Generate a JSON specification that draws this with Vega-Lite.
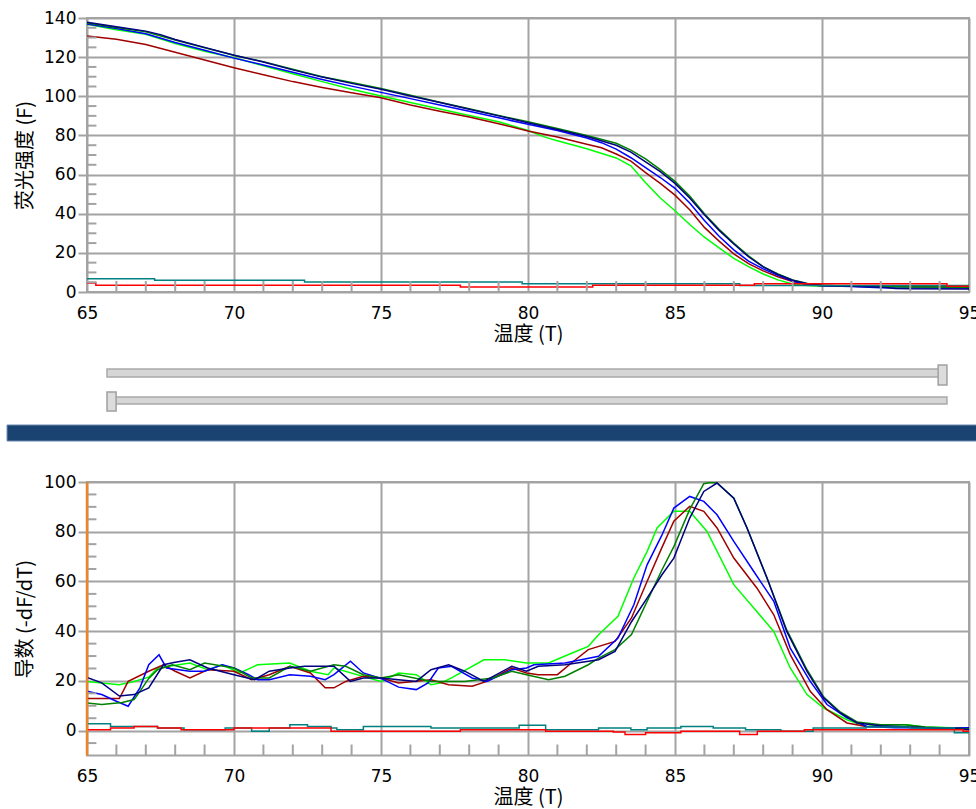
{
 "$schema": "https://vega.github.io/schema/vega-lite/v6.json",
 "background": "white",
 "padding": {"left": 6, "top": 8, "right": 0, "bottom": 0},
 "bounds": "flush",
 "spacing": 0,
 "config": {
  "view": {"stroke": "#a3a3a3", "strokeWidth": 2},
  "axis": {"labelFont": "DejaVu Sans", "labelFontSize": 17, "labelColor": "#000000", "titleFont": "Noto Sans CJK SC", "titleFontSize": 20, "titleFontWeight": "normal", "titleColor": "#000000", "gridColor": "#a3a3a3", "gridWidth": 2, "gridOpacity": 1, "domain": false, "tickColor": "#a3a3a3", "tickWidth": 2, "labelOverlap": false}
 },
 "datasets": {
  "melt": [
   {"s":"s4","T":65,"F":136.8},{"s":"s4","T":66,"F":134},{"s":"s4","T":67,"F":131.7},{"s":"s4","T":68,"F":127},{"s":"s4","T":69,"F":123},{"s":"s4","T":70,"F":119.7},{"s":"s4","T":71,"F":115.6},{"s":"s4","T":72,"F":111.5},{"s":"s4","T":73,"F":107.5},{"s":"s4","T":74,"F":103.6},{"s":"s4","T":75,"F":100.2},{"s":"s4","T":76,"F":96.8},{"s":"s4","T":77,"F":93.5},{"s":"s4","T":78,"F":90.2},{"s":"s4","T":79,"F":87},{"s":"s4","T":80,"F":82.5},{"s":"s4","T":80.6,"F":79},{"s":"s4","T":81,"F":77.3},{"s":"s4","T":82,"F":73.2},{"s":"s4","T":83,"F":68.5},{"s":"s4","T":83.5,"F":64.5},{"s":"s4","T":84,"F":55.8},{"s":"s4","T":84.5,"F":48},{"s":"s4","T":85,"F":41.5},{"s":"s4","T":85.5,"F":34.5},{"s":"s4","T":86,"F":28},{"s":"s4","T":86.5,"F":22.5},{"s":"s4","T":87,"F":17.2},{"s":"s4","T":87.5,"F":13},{"s":"s4","T":88,"F":9.2},{"s":"s4","T":88.5,"F":6.2},{"s":"s4","T":89,"F":4.1},{"s":"s4","T":89.5,"F":3.3},{"s":"s4","T":90,"F":3},{"s":"s4","T":92,"F":3},{"s":"s4","T":95,"F":3},
   {"s":"s5","T":65,"F":130.8},{"s":"s5","T":66,"F":129.2},{"s":"s5","T":67,"F":126.5},{"s":"s5","T":68,"F":122.5},{"s":"s5","T":69,"F":118.5},{"s":"s5","T":70,"F":114.6},{"s":"s5","T":71,"F":111},{"s":"s5","T":72,"F":107.5},{"s":"s5","T":73,"F":104.5},{"s":"s5","T":74,"F":101.8},{"s":"s5","T":75,"F":99.2},{"s":"s5","T":76,"F":95.6},{"s":"s5","T":77,"F":92.4},{"s":"s5","T":78,"F":89.4},{"s":"s5","T":79,"F":86},{"s":"s5","T":80,"F":82.3},{"s":"s5","T":81,"F":79.2},{"s":"s5","T":82,"F":75.5},{"s":"s5","T":82.5,"F":73.7},{"s":"s5","T":83,"F":70.5},{"s":"s5","T":83.5,"F":66.9},{"s":"s5","T":84,"F":61},{"s":"s5","T":84.5,"F":55.5},{"s":"s5","T":85,"F":49.5},{"s":"s5","T":85.5,"F":42},{"s":"s5","T":86,"F":33},{"s":"s5","T":86.5,"F":26},{"s":"s5","T":87,"F":19.5},{"s":"s5","T":87.5,"F":14.5},{"s":"s5","T":88,"F":10.8},{"s":"s5","T":88.5,"F":7.8},{"s":"s5","T":89,"F":5.3},{"s":"s5","T":89.5,"F":3.8},{"s":"s5","T":90,"F":3.2},{"s":"s5","T":91,"F":3},{"s":"s5","T":95,"F":3},
   {"s":"s3","T":65,"F":137},{"s":"s3","T":66,"F":134.6},{"s":"s3","T":67,"F":132},{"s":"s3","T":68,"F":127.5},{"s":"s3","T":69,"F":123.5},{"s":"s3","T":70,"F":119.5},{"s":"s3","T":71,"F":116},{"s":"s3","T":72,"F":112.3},{"s":"s3","T":73,"F":108.6},{"s":"s3","T":74,"F":105.2},{"s":"s3","T":75,"F":102},{"s":"s3","T":76,"F":98.8},{"s":"s3","T":77,"F":95.6},{"s":"s3","T":78,"F":92.3},{"s":"s3","T":79,"F":89},{"s":"s3","T":80,"F":85.7},{"s":"s3","T":81,"F":82.5},{"s":"s3","T":82,"F":78.7},{"s":"s3","T":82.5,"F":76.3},{"s":"s3","T":83,"F":73},{"s":"s3","T":83.5,"F":68.6},{"s":"s3","T":84,"F":63.5},{"s":"s3","T":84.5,"F":58.5},{"s":"s3","T":85,"F":53},{"s":"s3","T":85.5,"F":45.5},{"s":"s3","T":86,"F":36.5},{"s":"s3","T":86.5,"F":28.5},{"s":"s3","T":87,"F":21.5},{"s":"s3","T":87.5,"F":15.8},{"s":"s3","T":88,"F":11.8},{"s":"s3","T":88.5,"F":8.5},{"s":"s3","T":89,"F":5.6},{"s":"s3","T":89.5,"F":3.8},{"s":"s3","T":90,"F":3.2},{"s":"s3","T":91,"F":2.8},{"s":"s3","T":92,"F":2.2},{"s":"s3","T":93,"F":2},{"s":"s3","T":95,"F":2},
   {"s":"s2","T":65,"F":137.4},{"s":"s2","T":66,"F":135.2},{"s":"s2","T":67,"F":133},{"s":"s2","T":68,"F":128.8},{"s":"s2","T":69,"F":124.8},{"s":"s2","T":70,"F":121},{"s":"s2","T":71,"F":117.6},{"s":"s2","T":72,"F":113.8},{"s":"s2","T":73,"F":110},{"s":"s2","T":74,"F":107},{"s":"s2","T":75,"F":104},{"s":"s2","T":76,"F":100.5},{"s":"s2","T":77,"F":97},{"s":"s2","T":78,"F":93.6},{"s":"s2","T":79,"F":90.2},{"s":"s2","T":80,"F":87},{"s":"s2","T":81,"F":83.5},{"s":"s2","T":82,"F":80},{"s":"s2","T":83,"F":76},{"s":"s2","T":83.5,"F":72.5},{"s":"s2","T":84,"F":68},{"s":"s2","T":84.5,"F":62.5},{"s":"s2","T":85,"F":56.5},{"s":"s2","T":85.5,"F":49},{"s":"s2","T":86,"F":40},{"s":"s2","T":86.5,"F":32},{"s":"s2","T":87,"F":25},{"s":"s2","T":87.5,"F":18.5},{"s":"s2","T":88,"F":13},{"s":"s2","T":88.5,"F":9.2},{"s":"s2","T":89,"F":6.2},{"s":"s2","T":89.5,"F":4.3},{"s":"s2","T":90,"F":3.4},{"s":"s2","T":91,"F":3},{"s":"s2","T":92,"F":2.8},{"s":"s2","T":93,"F":2.5},{"s":"s2","T":95,"F":2.4},
   {"s":"s1","T":65,"F":137.8},{"s":"s1","T":66,"F":135.5},{"s":"s1","T":67,"F":133.3},{"s":"s1","T":67.5,"F":131.5},{"s":"s1","T":68,"F":129},{"s":"s1","T":69,"F":125},{"s":"s1","T":70,"F":121},{"s":"s1","T":71,"F":117.5},{"s":"s1","T":72,"F":113.5},{"s":"s1","T":73,"F":109.8},{"s":"s1","T":74,"F":106.6},{"s":"s1","T":75,"F":103.6},{"s":"s1","T":76,"F":100.2},{"s":"s1","T":77,"F":96.8},{"s":"s1","T":78,"F":93.4},{"s":"s1","T":79,"F":90},{"s":"s1","T":80,"F":86.5},{"s":"s1","T":81,"F":83},{"s":"s1","T":82,"F":79.5},{"s":"s1","T":83,"F":75},{"s":"s1","T":83.5,"F":71.5},{"s":"s1","T":84,"F":66.5},{"s":"s1","T":84.5,"F":61.5},{"s":"s1","T":85,"F":55.5},{"s":"s1","T":85.5,"F":48},{"s":"s1","T":86,"F":39.5},{"s":"s1","T":86.5,"F":31.5},{"s":"s1","T":87,"F":24.5},{"s":"s1","T":87.5,"F":18},{"s":"s1","T":88,"F":12.8},{"s":"s1","T":88.5,"F":9},{"s":"s1","T":89,"F":6},{"s":"s1","T":89.5,"F":4.2},{"s":"s1","T":90,"F":3.4},{"s":"s1","T":91,"F":3},{"s":"s1","T":92,"F":2.5},{"s":"s1","T":92.5,"F":1.8},{"s":"s1","T":93,"F":1.6},{"s":"s1","T":95,"F":1.5}
  ],
  "meltNC": [
   {"s":"nc1","T":65,"F":6.8},{"s":"nc1","T":67.3,"F":6.0},{"s":"nc1","T":72.4,"F":5.1},{"s":"nc1","T":79.8,"F":4.2},{"s":"nc1","T":87.2,"F":3.3},{"s":"nc1","T":95,"F":3.3},
   {"s":"nc2","T":65,"F":4.6},{"s":"nc2","T":65.3,"F":3.4},{"s":"nc2","T":77.7,"F":2.6},{"s":"nc2","T":82.2,"F":3.4},{"s":"nc2","T":87.7,"F":4.2},{"s":"nc2","T":94.25,"F":3.0},{"s":"nc2","T":95,"F":3.0}
  ],
  "deriv": [
   {"s":"s4","T":65,"D":19.8},{"s":"s4","T":65.5,"D":19.2},{"s":"s4","T":66.1,"D":18.5},{"s":"s4","T":66.6,"D":19.8},{"s":"s4","T":67.1,"D":21.5},{"s":"s4","T":67.4,"D":25.2},{"s":"s4","T":68.5,"D":27.2},{"s":"s4","T":69.1,"D":24.5},{"s":"s4","T":69.6,"D":26.5},{"s":"s4","T":70.2,"D":23.2},{"s":"s4","T":70.8,"D":26.5},{"s":"s4","T":71.9,"D":27.2},{"s":"s4","T":72.6,"D":23.9},{"s":"s4","T":73.2,"D":22.5},{"s":"s4","T":73.4,"D":25.2},{"s":"s4","T":75,"D":19.8},{"s":"s4","T":75.6,"D":23.2},{"s":"s4","T":76.2,"D":22.5},{"s":"s4","T":76.7,"D":18.5},{"s":"s4","T":77.05,"D":19.2},{"s":"s4","T":77.4,"D":21.2},{"s":"s4","T":78.5,"D":28.5},{"s":"s4","T":79.2,"D":28.5},{"s":"s4","T":79.95,"D":27.2},{"s":"s4","T":80.7,"D":27.2},{"s":"s4","T":81.5,"D":31.2},{"s":"s4","T":82.05,"D":33.9},{"s":"s4","T":82.4,"D":38.6},{"s":"s4","T":83.06,"D":46},{"s":"s4","T":83.6,"D":61.4},{"s":"s4","T":84.05,"D":72},{"s":"s4","T":84.39,"D":81.5},{"s":"s4","T":84.96,"D":88.2},{"s":"s4","T":85.5,"D":88.2},{"s":"s4","T":86.09,"D":80.1},{"s":"s4","T":87,"D":58.7},{"s":"s4","T":87.68,"D":49.3},{"s":"s4","T":88.36,"D":39.9},{"s":"s4","T":88.92,"D":25.2},{"s":"s4","T":89.49,"D":14.5},{"s":"s4","T":90.06,"D":9.1},{"s":"s4","T":90.85,"D":4.4},{"s":"s4","T":91.5,"D":1.7},{"s":"s4","T":92.2,"D":2.4},{"s":"s4","T":92.9,"D":2.4},{"s":"s4","T":93.5,"D":1.5},{"s":"s4","T":95,"D":1},
   {"s":"s5","T":65,"D":12.9},{"s":"s5","T":66.1,"D":12.9},{"s":"s5","T":66.4,"D":19.8},{"s":"s5","T":67.1,"D":23.9},{"s":"s5","T":67.6,"D":26.5},{"s":"s5","T":68,"D":23.9},{"s":"s5","T":68.5,"D":21.2},{"s":"s5","T":69.1,"D":24.5},{"s":"s5","T":70,"D":23.9},{"s":"s5","T":70.6,"D":20.5},{"s":"s5","T":71.2,"D":22.5},{"s":"s5","T":71.9,"D":25.9},{"s":"s5","T":72.6,"D":23.2},{"s":"s5","T":73.1,"D":17.2},{"s":"s5","T":73.4,"D":17.2},{"s":"s5","T":73.8,"D":19.8},{"s":"s5","T":74.4,"D":21.9},{"s":"s5","T":75,"D":21.2},{"s":"s5","T":75.6,"D":19.2},{"s":"s5","T":76.7,"D":20.5},{"s":"s5","T":77.3,"D":18.5},{"s":"s5","T":78.1,"D":17.9},{"s":"s5","T":78.6,"D":19.8},{"s":"s5","T":79.45,"D":25.2},{"s":"s5","T":79.95,"D":23.2},{"s":"s5","T":80.35,"D":22.5},{"s":"s5","T":81,"D":22.5},{"s":"s5","T":81.55,"D":27.9},{"s":"s5","T":82.05,"D":32.6},{"s":"s5","T":82.96,"D":35.9},{"s":"s5","T":83.52,"D":45.3},{"s":"s5","T":84.05,"D":60},{"s":"s5","T":84.55,"D":73.5},{"s":"s5","T":84.96,"D":84.2},{"s":"s5","T":85.5,"D":90.2},{"s":"s5","T":85.98,"D":88.2},{"s":"s5","T":86.43,"D":81.5},{"s":"s5","T":87,"D":69.4},{"s":"s5","T":87.79,"D":57.3},{"s":"s5","T":88.36,"D":46.6},{"s":"s5","T":88.92,"D":30.6},{"s":"s5","T":89.6,"D":15.8},{"s":"s5","T":90.17,"D":8.4},{"s":"s5","T":90.85,"D":3.1},{"s":"s5","T":91.5,"D":1.7},{"s":"s5","T":92.5,"D":1.5},{"s":"s5","T":94,"D":1},{"s":"s5","T":95,"D":0.5},
   {"s":"s3","T":65,"D":15.8},{"s":"s3","T":65.5,"D":14.5},{"s":"s3","T":66,"D":11.8},{"s":"s3","T":66.4,"D":9.8},{"s":"s3","T":66.8,"D":17.2},{"s":"s3","T":67.1,"D":26.5},{"s":"s3","T":67.45,"D":30.5},{"s":"s3","T":67.7,"D":25.2},{"s":"s3","T":68.5,"D":23.9},{"s":"s3","T":69,"D":23.9},{"s":"s3","T":69.6,"D":26.5},{"s":"s3","T":70,"D":25.2},{"s":"s3","T":70.5,"D":22.5},{"s":"s3","T":70.8,"D":20.5},{"s":"s3","T":71.2,"D":20.5},{"s":"s3","T":71.9,"D":22.5},{"s":"s3","T":72.6,"D":21.9},{"s":"s3","T":73.1,"D":20.5},{"s":"s3","T":73.4,"D":22.5},{"s":"s3","T":73.96,"D":27.9},{"s":"s3","T":74.4,"D":23.2},{"s":"s3","T":75,"D":21},{"s":"s3","T":75.6,"D":17.5},{"s":"s3","T":76.2,"D":16.5},{"s":"s3","T":76.6,"D":19.2},{"s":"s3","T":76.95,"D":25.2},{"s":"s3","T":77.4,"D":25.9},{"s":"s3","T":78.1,"D":21.2},{"s":"s3","T":78.6,"D":19.8},{"s":"s3","T":79.45,"D":24.5},{"s":"s3","T":79.95,"D":25.2},{"s":"s3","T":80.2,"D":26.5},{"s":"s3","T":81.26,"D":27.2},{"s":"s3","T":82.4,"D":29.9},{"s":"s3","T":83.06,"D":37.2},{"s":"s3","T":83.6,"D":50.6},{"s":"s3","T":84.05,"D":66.7},{"s":"s3","T":84.55,"D":78.5},{"s":"s3","T":84.96,"D":89.5},{"s":"s3","T":85.5,"D":94.2},{"s":"s3","T":85.98,"D":92.2},{"s":"s3","T":86.43,"D":86.8},{"s":"s3","T":87,"D":76.1},{"s":"s3","T":87.68,"D":64},{"s":"s3","T":88.36,"D":52},{"s":"s3","T":88.92,"D":33.2},{"s":"s3","T":89.6,"D":19.8},{"s":"s3","T":90.17,"D":10.5},{"s":"s3","T":90.85,"D":5.1},{"s":"s3","T":91.53,"D":1.7},{"s":"s3","T":92.5,"D":1.2},{"s":"s3","T":95,"D":1.2},
   {"s":"s2","T":65,"D":11.1},{"s":"s2","T":65.5,"D":10.5},{"s":"s2","T":66.2,"D":11.3},{"s":"s2","T":66.6,"D":12.5},{"s":"s2","T":66.8,"D":15.8},{"s":"s2","T":67.1,"D":21},{"s":"s2","T":67.4,"D":24.5},{"s":"s2","T":67.9,"D":26.5},{"s":"s2","T":68.5,"D":24.5},{"s":"s2","T":69,"D":27.2},{"s":"s2","T":70,"D":25.2},{"s":"s2","T":70.6,"D":21.2},{"s":"s2","T":71.2,"D":21.2},{"s":"s2","T":71.9,"D":25.9},{"s":"s2","T":72.6,"D":23.9},{"s":"s2","T":73.4,"D":26.5},{"s":"s2","T":73.8,"D":25.9},{"s":"s2","T":74.4,"D":22.5},{"s":"s2","T":75,"D":21.2},{"s":"s2","T":75.6,"D":22.5},{"s":"s2","T":76.7,"D":19.8},{"s":"s2","T":77.85,"D":19.8},{"s":"s2","T":78.8,"D":21.2},{"s":"s2","T":79.45,"D":23.9},{"s":"s2","T":79.95,"D":22.5},{"s":"s2","T":80.7,"D":20.5},{"s":"s2","T":81.26,"D":21.9},{"s":"s2","T":82.05,"D":26.5},{"s":"s2","T":82.4,"D":29.2},{"s":"s2","T":82.96,"D":32.6},{"s":"s2","T":83.52,"D":38.6},{"s":"s2","T":84.05,"D":52},{"s":"s2","T":84.55,"D":64.5},{"s":"s2","T":84.96,"D":74},{"s":"s2","T":85.5,"D":89},{"s":"s2","T":85.98,"D":99.3},{"s":"s2","T":86.2,"D":99.8},{"s":"s2","T":86.43,"D":99.6},{"s":"s2","T":87,"D":93.5},{"s":"s2","T":87.45,"D":81.5},{"s":"s2","T":88.13,"D":61.4},{"s":"s2","T":88.8,"D":40.5},{"s":"s2","T":89.49,"D":24.5},{"s":"s2","T":90.06,"D":13.5},{"s":"s2","T":90.62,"D":7.5},{"s":"s2","T":91.19,"D":3.5},{"s":"s2","T":92,"D":2.4},{"s":"s2","T":92.8,"D":2.4},{"s":"s2","T":93.5,"D":1.5},{"s":"s2","T":94.5,"D":1},{"s":"s2","T":95,"D":0.8},
   {"s":"s1","T":65,"D":21.4},{"s":"s1","T":65.5,"D":19.2},{"s":"s1","T":66.1,"D":13.9},{"s":"s1","T":66.6,"D":14.5},{"s":"s1","T":67.1,"D":17.2},{"s":"s1","T":67.6,"D":26.5},{"s":"s1","T":68,"D":27.5},{"s":"s1","T":68.5,"D":28.5},{"s":"s1","T":69.1,"D":25.2},{"s":"s1","T":70,"D":22.5},{"s":"s1","T":70.7,"D":20.5},{"s":"s1","T":71.2,"D":23.9},{"s":"s1","T":71.9,"D":25.2},{"s":"s1","T":72.4,"D":25.9},{"s":"s1","T":73.4,"D":25.9},{"s":"s1","T":73.96,"D":19.8},{"s":"s1","T":74.4,"D":21.2},{"s":"s1","T":75,"D":21.2},{"s":"s1","T":76.2,"D":19.8},{"s":"s1","T":76.7,"D":24.5},{"s":"s1","T":77.3,"D":26.5},{"s":"s1","T":77.85,"D":23.9},{"s":"s1","T":78.5,"D":19.8},{"s":"s1","T":79.45,"D":25.9},{"s":"s1","T":79.95,"D":23.9},{"s":"s1","T":80.35,"D":25.9},{"s":"s1","T":81.26,"D":26.5},{"s":"s1","T":82.4,"D":28.5},{"s":"s1","T":82.96,"D":31.9},{"s":"s1","T":83.52,"D":43.8},{"s":"s1","T":84.05,"D":53.3},{"s":"s1","T":84.55,"D":62.6},{"s":"s1","T":84.96,"D":69.4},{"s":"s1","T":85.5,"D":85.5},{"s":"s1","T":85.98,"D":96.2},{"s":"s1","T":86.43,"D":99.6},{"s":"s1","T":87,"D":93.5},{"s":"s1","T":87.45,"D":81.5},{"s":"s1","T":88.13,"D":61.4},{"s":"s1","T":88.8,"D":39.9},{"s":"s1","T":89.49,"D":23.8},{"s":"s1","T":90.06,"D":13.1},{"s":"s1","T":90.62,"D":7.1},{"s":"s1","T":91.19,"D":3.1},{"s":"s1","T":92,"D":2},{"s":"s1","T":93,"D":1.5},{"s":"s1","T":94,"D":1},{"s":"s1","T":95,"D":0.5}
  ],
  "derivNC": [
   {"s":"nc1","T":65,"D":2.8},{"s":"nc1","T":65.8,"D":1.7},{"s":"nc1","T":67.4,"D":1.1},{"s":"nc1","T":68.3,"D":0.4},{"s":"nc1","T":69.7,"D":1.1},{"s":"nc1","T":70.6,"D":-0.2},{"s":"nc1","T":71.2,"D":1.1},{"s":"nc1","T":71.9,"D":2.4},{"s":"nc1","T":72.5,"D":1.7},{"s":"nc1","T":73.3,"D":1.1},{"s":"nc1","T":73.5,"D":0.4},{"s":"nc1","T":74.4,"D":1.7},{"s":"nc1","T":76.7,"D":1.1},{"s":"nc1","T":79.7,"D":2.2},{"s":"nc1","T":80.6,"D":0.4},{"s":"nc1","T":82.4,"D":1.1},{"s":"nc1","T":83.5,"D":0.4},{"s":"nc1","T":84.05,"D":1.1},{"s":"nc1","T":85.2,"D":1.7},{"s":"nc1","T":86.3,"D":1.1},{"s":"nc1","T":87.4,"D":0.4},{"s":"nc1","T":88.6,"D":-0.2},{"s":"nc1","T":89.7,"D":1.1},{"s":"nc1","T":91.5,"D":1.5},{"s":"nc1","T":93,"D":1.1},{"s":"nc1","T":94.5,"D":-0.9},{"s":"nc1","T":95,"D":-0.9},
   {"s":"nc2","T":65,"D":0.4},{"s":"nc2","T":65.8,"D":1.1},{"s":"nc2","T":66.6,"D":1.7},{"s":"nc2","T":67.4,"D":1.1},{"s":"nc2","T":68.2,"D":0.4},{"s":"nc2","T":70,"D":1.1},{"s":"nc2","T":73.3,"D":-0.2},{"s":"nc2","T":77.7,"D":0.4},{"s":"nc2","T":80.6,"D":-0.2},{"s":"nc2","T":82.9,"D":-0.5},{"s":"nc2","T":83.3,"D":-1.6},{"s":"nc2","T":84,"D":-0.9},{"s":"nc2","T":85.2,"D":-0.2},{"s":"nc2","T":87.2,"D":-1.6},{"s":"nc2","T":87.8,"D":-0.2},{"s":"nc2","T":89.4,"D":0.4},{"s":"nc2","T":94.8,"D":-0.2},{"s":"nc2","T":95,"D":-0.2}
  ],
  "xminor": [{"T":66},{"T":67},{"T":68},{"T":69},{"T":71},{"T":72},{"T":73},{"T":74},{"T":76},{"T":77},{"T":78},{"T":79},{"T":81},{"T":82},{"T":83},{"T":84},{"T":86},{"T":87},{"T":88},{"T":89},{"T":91},{"T":92},{"T":93},{"T":94}],
  "yminorTop": [{"F":5},{"F":10},{"F":15},{"F":25},{"F":30},{"F":35},{"F":45},{"F":50},{"F":55},{"F":65},{"F":70},{"F":75},{"F":85},{"F":90},{"F":95},{"F":105},{"F":110},{"F":115},{"F":125},{"F":130},{"F":135}],
  "yminorBottom": [{"D":-5},{"D":5},{"D":10},{"D":15},{"D":25},{"D":30},{"D":35},{"D":45},{"D":50},{"D":55},{"D":65},{"D":70},{"D":75},{"D":85},{"D":90},{"D":95}]
 },
 "vconcat": [
  {
   "width": 882,
   "height": 274,
   "layer": [
    {
     "data": {"name": "melt"},
     "mark": {"type": "line", "strokeWidth": 1.5, "clip": true},
     "encoding": {
      "x": {"field": "T", "type": "quantitative", "scale": {"domain": [65, 95], "nice": false, "zero": false},
            "axis": {"values": [65, 70, 75, 80, 85, 90, 95], "tickCount": 30, "grid": true, "ticks": false, "labelPadding": 13, "labelFlush": false, "labelOverlap": false, "title": "温度 (T)", "titleY": 32, "titleBaseline": "top"}},
      "y": {"field": "F", "type": "quantitative", "scale": {"domain": [0, 140], "nice": false},
            "axis": {"values": [0, 20, 40, 60, 80, 100, 120, 140], "tickCount": 30, "grid": true, "ticks": true, "tickSize": 9, "labelPadding": 2, "labelOverlap": false, "title": "荧光强度 (F)", "titleX": -62, "titleBaseline": "middle"}},
      "color": {"field": "s", "type": "nominal", "scale": {"domain": ["s1", "s2", "s3", "s4", "s5", "nc1", "nc2"], "range": ["#000080", "#008000", "#0000ff", "#00ff00", "#a00000", "#008080", "#ff0000"]}, "legend": null}
     }
    },
    {
     "data": {"name": "meltNC"},
     "mark": {"type": "line", "strokeWidth": 1.5, "interpolate": "step-after", "clip": true},
     "encoding": {
      "x": {"field": "T", "type": "quantitative"},
      "y": {"field": "F", "type": "quantitative"},
      "color": {"field": "s", "type": "nominal", "legend": null}
     }
    },
    {
     "data": {"name": "yminorTop"},
     "mark": {"type": "rule", "color": "#a3a3a3", "strokeWidth": 2},
     "encoding": {
      "y": {"field": "F", "type": "quantitative"},
      "x": {"datum": 65, "type": "quantitative"},
      "x2": {"datum": 65.32}
     }
    },
    {
     "data": {"name": "xminor"},
     "mark": {"type": "rule", "color": "#a3a3a3", "strokeWidth": 2},
     "encoding": {
      "x": {"field": "T", "type": "quantitative"},
      "y": {"datum": 0, "type": "quantitative"},
      "y2": {"datum": 5.6}
     }
    }
   ]
  },
  {
   "width": 882,
   "height": 190,
   "view": {"stroke": null},
   "data": {"values": [{}]},
   "layer": [
    {
     "mark": {"type": "rect", "fill": "#1b4372", "stroke": "#6a89ad", "strokeWidth": 1, "clip": false},
     "encoding": {
      "x": {"datum": 62.28, "type": "quantitative", "scale": {"domain": [65, 95], "nice": false, "zero": false}, "axis": null},
      "x2": {"datum": 95.3},
      "y": {"datum": 133, "type": "quantitative", "scale": {"domain": [0, 190], "reverse": true, "nice": false, "zero": false}, "axis": null},
      "y2": {"datum": 149}
     }
    },
    {
     "mark": {"type": "rect", "fill": "#d6d6d6", "stroke": "#a9a9a9", "strokeWidth": 1.5, "clip": false},
     "encoding": {"x": {"datum": 65.68, "type": "quantitative"}, "x2": {"datum": 94.0}, "y": {"datum": 77, "type": "quantitative"}, "y2": {"datum": 85}}
    },
    {
     "mark": {"type": "rect", "fill": "#dcdcdc", "stroke": "#a0a0a0", "strokeWidth": 1.5, "clip": false},
     "encoding": {"x": {"datum": 93.95, "type": "quantitative"}, "x2": {"datum": 94.25}, "y": {"datum": 73, "type": "quantitative"}, "y2": {"datum": 93}}
    },
    {
     "mark": {"type": "rect", "fill": "#d6d6d6", "stroke": "#a9a9a9", "strokeWidth": 1.5, "clip": false},
     "encoding": {"x": {"datum": 65.95, "type": "quantitative"}, "x2": {"datum": 94.25}, "y": {"datum": 105, "type": "quantitative"}, "y2": {"datum": 112}}
    },
    {
     "mark": {"type": "rect", "fill": "#dcdcdc", "stroke": "#a0a0a0", "strokeWidth": 1.5, "clip": false},
     "encoding": {"x": {"datum": 65.68, "type": "quantitative"}, "x2": {"datum": 65.99}, "y": {"datum": 100, "type": "quantitative"}, "y2": {"datum": 119}}
    }
   ]
  },
  {
   "width": 882,
   "height": 273.5,
   "layer": [
    {
     "data": {"name": "deriv"},
     "mark": {"type": "line", "strokeWidth": 1.5, "clip": true},
     "encoding": {
      "x": {"field": "T", "type": "quantitative", "scale": {"domain": [65, 95], "nice": false, "zero": false},
            "axis": {"values": [65, 70, 75, 80, 85, 90, 95], "tickCount": 30, "grid": true, "ticks": false, "labelPadding": 13, "labelFlush": false, "labelOverlap": false, "title": "温度 (T)", "titleY": 32, "titleBaseline": "top"}},
      "y": {"field": "D", "type": "quantitative", "scale": {"domain": [-10, 100], "nice": false, "zero": false},
            "axis": {"values": [0, 20, 40, 60, 80, 100], "tickCount": 30, "grid": true, "ticks": true, "tickSize": 9, "labelPadding": 2, "labelOverlap": false, "title": "导数 (-dF/dT)", "titleX": -62, "titleBaseline": "middle"}},
      "color": {"field": "s", "type": "nominal", "scale": {"domain": ["s1", "s2", "s3", "s4", "s5", "nc1", "nc2"], "range": ["#000080", "#008000", "#0000ff", "#00ff00", "#a00000", "#008080", "#ff0000"]}, "legend": null}
     }
    },
    {
     "data": {"name": "derivNC"},
     "mark": {"type": "line", "strokeWidth": 1.5, "interpolate": "step-after", "clip": true},
     "encoding": {
      "x": {"field": "T", "type": "quantitative"},
      "y": {"field": "D", "type": "quantitative"},
      "color": {"field": "s", "type": "nominal", "legend": null}
     }
    },
    {
     "data": {"name": "yminorBottom"},
     "mark": {"type": "rule", "color": "#a3a3a3", "strokeWidth": 2},
     "encoding": {
      "y": {"field": "D", "type": "quantitative"},
      "x": {"datum": 65, "type": "quantitative"},
      "x2": {"datum": 65.32}
     }
    },
    {
     "data": {"name": "xminor"},
     "mark": {"type": "rule", "color": "#a3a3a3", "strokeWidth": 2},
     "encoding": {
      "x": {"field": "T", "type": "quantitative"},
      "y": {"datum": -10, "type": "quantitative"},
      "y2": {"datum": -5.58}
     }
    },
    {
     "data": {"values": [{}]},
     "mark": {"type": "rule", "color": "#e8862e", "strokeWidth": 2.5},
     "encoding": {
      "x": {"datum": 65, "type": "quantitative"}
     }
    }
   ]
  }
 ]
}
